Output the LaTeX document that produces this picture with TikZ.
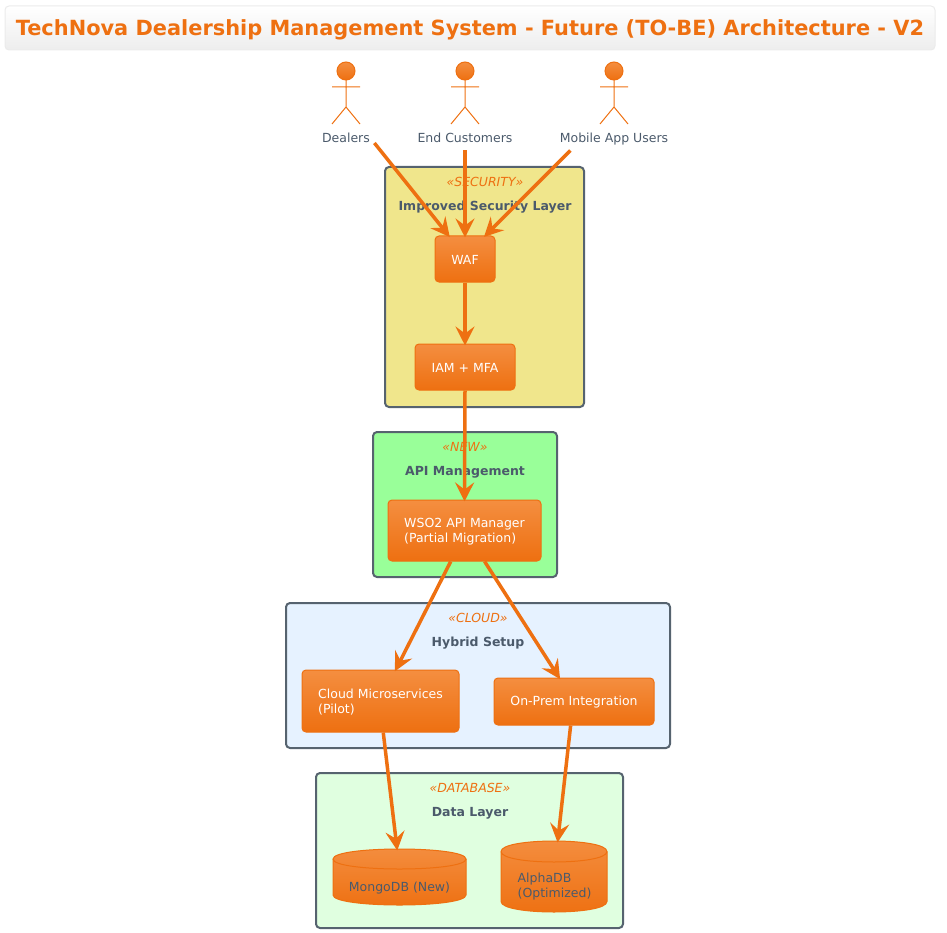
\documentclass[tikz,border=0pt]{standalone}
\usepackage{fontspec}
\setmainfont{DejaVu Sans}
\usetikzlibrary{arrows.meta}

\definecolor{TopOrange}{HTML}{F48E40}
\definecolor{BaseOrange}{HTML}{EE7011}
\definecolor{FrameGray}{HTML}{56636F}
\definecolor{TextGray}{HTML}{4B5A6B}
\definecolor{SecurityFill}{HTML}{F0E68C}
\definecolor{ApiFill}{HTML}{99FF99}
\definecolor{CloudFill}{HTML}{E6F2FF}
\definecolor{DataFill}{HTML}{E0FFE0}

\def\LabelFont{\fontsize{12.5}{15}\selectfont}

% left, right, top, bottom, rim height
\newcommand\DbDrum[5]{
  \draw[BaseOrange,top color=TopOrange,bottom color=BaseOrange]
    (#1,#3+#5) .. controls (#1,#3-#5/3) and (#2,#3-#5/3) .. (#2,#3+#5)
    -- (#2,#4-#5) .. controls (#2,#4+#5/3) and (#1,#4+#5/3) .. (#1,#4-#5) -- cycle;
  \draw[BaseOrange] (#1,#3+#5) .. controls (#1,#3+#5*7/3) and (#2,#3+#5*7/3) .. (#2,#3+#5);
}

\tikzset{
  zone/.style={draw=FrameGray,line width=2pt,rounded corners=4pt,inner sep=0pt},
  stereo/.style={text=BaseOrange,font=\LabelFont\itshape,inner sep=1pt},
  zonetitle/.style={text=TextGray,font=\LabelFont\bfseries,inner sep=1pt},
  comp/.style={draw=BaseOrange,top color=TopOrange,bottom color=BaseOrange,rounded corners=4pt,
    text=white,font=\LabelFont,align=left,inner sep=0pt},
  store/.style={inner sep=0pt},
  storetext/.style={text=TextGray,font=\LabelFont,align=left,inner sep=0pt},
  actorname/.style={text=TextGray,font=\LabelFont,minimum height=24pt,text height=11pt,text depth=2pt,inner xsep=4pt,inner ysep=0pt},
  flow/.style={draw=BaseOrange,line width=3.5pt,shorten >=-2pt,-{Stealth[length=19pt,width=19pt,inset=7pt]}},
}

\begin{document}
\begin{tikzpicture}[x=1pt,y=-1pt,line width=1pt]
  \useasboundingbox (0,0) rectangle (947,933);

  % --- Title ---
  \node[draw=black!8,top color=white,bottom color=black!7,rounded corners=4pt,minimum width=930pt,minimum height=44pt,
    text height=15pt,text depth=0pt,text=BaseOrange,font=\fontsize{20.9}{25}\selectfont\bfseries] (title) at (470,28) {TechNova Dealership Management System - Future (TO-BE) Architecture - V2};

  % --- Actors ---
  \foreach \x/\name/\txt in {346/dealers/Dealers, 465/customers/End Customers, 614/mobile/Mobile App Users}
  {
    \draw[BaseOrange,top color=TopOrange,bottom color=BaseOrange] (\x,71) circle (9pt);
    \draw[BaseOrange] (\x,80) -- (\x,107) (\x-14,87) -- (\x+14,87) (\x-14,124) -- (\x,107) -- (\x+14,124);
    \node[actorname] (\name) at (\x,138) {\txt};
  }

  % --- Zones ---
  \node[zone,fill=SecurityFill,minimum width=199pt,minimum height=240pt] (security) at (484.5,287) {};
  \node[zone,fill=ApiFill,minimum width=184pt,minimum height=145pt] (api) at (465,504.5) {};
  \node[zone,fill=CloudFill,minimum width=384pt,minimum height=145pt] (cloud) at (478,675.5) {};
  \node[zone,fill=DataFill,minimum width=307pt,minimum height=155pt] (data) at (469.5,850.5) {};

  \foreach \x/\y/\st/\ttl/\name in {485/182/SECURITY/Improved Security Layer/security,
    465/447/NEW/API Management/api, 478/618/CLOUD/Hybrid Setup/cloud, 470/788/DATABASE/Data Layer/data}
  {
    \node[stereo] (\name st) at (\x,\y) {«\st»};
    \node[zonetitle] (\name ttl) at (\x,\y+25.5) {\ttl};
  }

  % --- Components ---
  \node[comp,minimum width=60pt,minimum height=46pt,text height=11pt] (waf) at (465,259) {WAF};
  \node[comp,minimum width=100pt,minimum height=46pt,text height=11pt] (iam) at (465,367) {IAM + MFA};
  \node[comp,minimum width=153pt,minimum height=61pt,text depth=1pt] (wso) at (464.5,530.5) {WSO2 API Manager\\(Partial Migration)};
  \node[comp,minimum width=157pt,minimum height=62pt,text depth=0pt] (micro) at (380.5,701) {Cloud Microservices\\(Pilot)};
  \node[comp,minimum width=160pt,minimum height=47pt,text depth=1pt] (onprem) at (574,701.5) {On-Prem Integration};

  \DbDrum{333}{466}{849}{905}{10}
  \DbDrum{501}{607}{841}{912}{10.5}
  \node[store,minimum width=133pt,minimum height=56pt] (mongo) at (399.5,877) {};
  \node[store,minimum width=106pt,minimum height=71pt] (alpha) at (554,876.5) {};
  \node[storetext] (mongotxt) at (399.5,888) {MongoDB (New)};
  \node[storetext] (alphatxt) at (554.5,887) {AlphaDB\\(Optimized)};

  % --- Flows ---
  \draw[flow] (dealers.-10) -- (waf.125);
  \draw[flow] (customers.south) -- (waf.north);
  \draw[flow] (mobile.196) -- (waf.49);
  \draw[flow] (waf.south) -- (iam.north);
  \draw[flow] (iam.south) -- (wso.north);
  \draw[flow] (wso.246) -- (micro.64);
  \draw[flow] (wso.303) -- (onprem.122);
  \draw[flow] (micro.275) -- (mongo.95);
  \draw[flow] (onprem.262) -- (alpha.84);
\end{tikzpicture}
\end{document}
